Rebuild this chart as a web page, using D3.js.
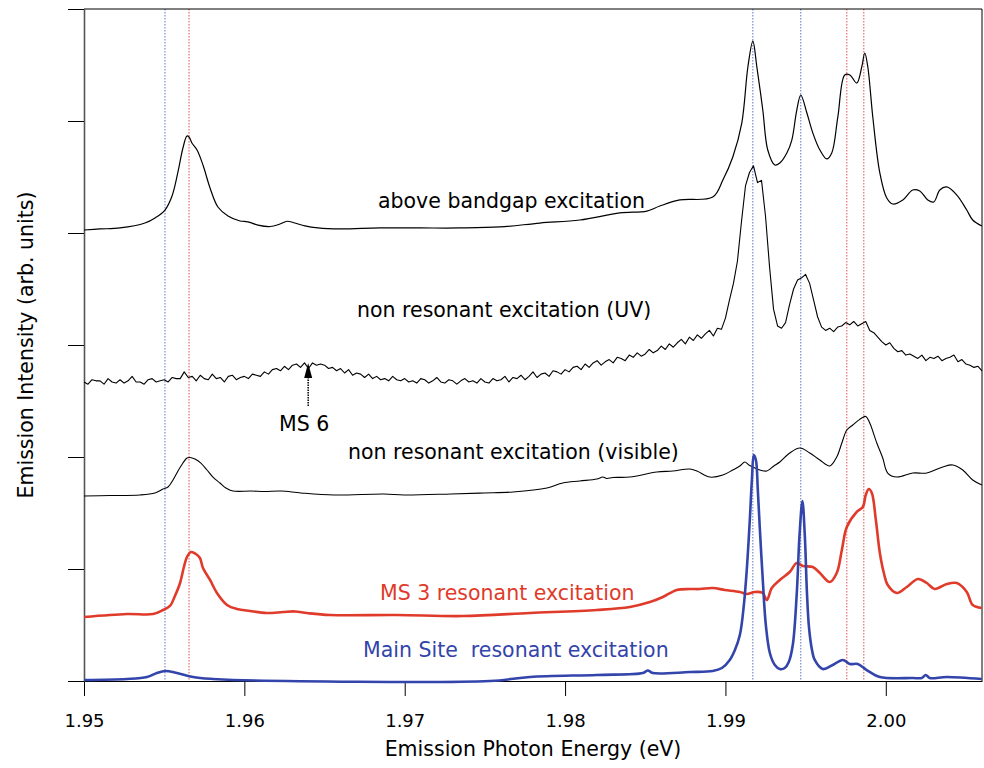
<!DOCTYPE html>
<html><head><meta charset="utf-8">
<script src="https://cdn.jsdelivr.net/npm/d3@7"></script>
<style>body{margin:0;background:#fff}svg text{font-family:"DejaVu Sans",Verdana,sans-serif}</style>
</head><body><svg id="c" width="984" height="768"></svg>
<script>
// ---- data ----
const xTicks=[1.95,1.96,1.97,1.98,1.99,2.00];
const yTicks=[0,1,2,3,4,5,6];
const blueRefLines=[1.95505,1.99171,1.99470];
const redRefLines=[1.95655,1.99757,1.99863];
const labelTexts=["above bandgap excitation","non resonant excitation (UV)","MS 6","non resonant excitation (visible)","MS 3 resonant excitation","Main Site  resonant excitation"];

const aboveBandgap=[[1.95000,4.027],[1.95100,4.036],[1.95224,4.045],[1.95380,4.089],[1.95443,4.134],[1.95505,4.205],[1.95549,4.330],[1.95586,4.545],[1.95617,4.759],[1.95642,4.866],[1.95655,4.857],[1.95673,4.804],[1.95705,4.741],[1.95742,4.607],[1.95786,4.402],[1.95835,4.232],[1.95898,4.152],[1.95973,4.107],[1.96022,4.100],[1.96085,4.071],[1.96160,4.058],[1.96222,4.080],[1.96266,4.105],[1.96315,4.089],[1.96378,4.063],[1.96459,4.045],[1.96596,4.036],[1.96845,4.045],[1.97095,4.045],[1.97344,4.045],[1.97594,4.054],[1.97843,4.089],[1.98092,4.116],[1.98342,4.179],[1.98510,4.196],[1.98591,4.241],[1.98716,4.295],[1.98921,4.321],[1.98984,4.473],[1.99046,4.679],[1.99102,4.982],[1.99140,5.482],[1.99171,5.714],[1.99196,5.482],[1.99233,5.098],[1.99264,4.741],[1.99308,4.607],[1.99339,4.625],[1.99383,4.714],[1.99414,4.830],[1.99445,5.098],[1.99470,5.232],[1.99508,5.071],[1.99545,4.893],[1.99589,4.741],[1.99632,4.661],[1.99663,4.714],[1.99701,5.036],[1.99744,5.411],[1.99776,5.411],[1.99819,5.339],[1.99850,5.482],[1.99869,5.607],[1.99888,5.482],[1.99919,5.036],[1.99963,4.536],[2.00006,4.313],[2.00044,4.259],[2.00106,4.295],[2.00168,4.384],[2.00212,4.375],[2.00262,4.295],[2.00299,4.277],[2.00337,4.384],[2.00380,4.411],[2.00443,4.339],[2.00505,4.205],[2.00542,4.116],[2.00599,4.063]];

const uvNonResonant=[[1.95000,2.67],[1.95025,2.65],[1.95050,2.69],[1.95075,2.68],[1.95100,2.68],[1.95125,2.65],[1.95150,2.70],[1.95175,2.67],[1.95200,2.66],[1.95225,2.69],[1.95250,2.66],[1.95275,2.68],[1.95300,2.72],[1.95325,2.67],[1.95350,2.67],[1.95375,2.65],[1.95400,2.69],[1.95425,2.70],[1.95450,2.67],[1.95475,2.68],[1.95500,2.69],[1.95525,2.67],[1.95550,2.71],[1.95575,2.70],[1.95600,2.70],[1.95625,2.76],[1.95650,2.71],[1.95675,2.72],[1.95700,2.68],[1.95725,2.73],[1.95750,2.70],[1.95775,2.69],[1.95800,2.74],[1.95825,2.70],[1.95850,2.71],[1.95875,2.67],[1.95900,2.72],[1.95925,2.73],[1.95950,2.69],[1.95975,2.71],[1.96000,2.72],[1.96025,2.70],[1.96050,2.74],[1.96075,2.73],[1.96100,2.72],[1.96125,2.76],[1.96150,2.74],[1.96175,2.78],[1.96200,2.79],[1.96225,2.77],[1.96250,2.81],[1.96275,2.78],[1.96300,2.82],[1.96325,2.83],[1.96350,2.80],[1.96375,2.84],[1.96400,2.79],[1.96425,2.84],[1.96450,2.82],[1.96475,2.83],[1.96500,2.82],[1.96525,2.79],[1.96550,2.80],[1.96575,2.77],[1.96600,2.79],[1.96625,2.75],[1.96650,2.78],[1.96675,2.73],[1.96700,2.75],[1.96725,2.74],[1.96750,2.71],[1.96775,2.74],[1.96800,2.70],[1.96825,2.72],[1.96850,2.69],[1.96875,2.70],[1.96900,2.68],[1.96925,2.72],[1.96950,2.69],[1.96975,2.68],[1.97000,2.70],[1.97025,2.67],[1.97050,2.68],[1.97075,2.66],[1.97100,2.70],[1.97125,2.69],[1.97150,2.66],[1.97175,2.68],[1.97200,2.71],[1.97225,2.67],[1.97250,2.66],[1.97275,2.69],[1.97300,2.68],[1.97325,2.65],[1.97350,2.68],[1.97375,2.70],[1.97400,2.67],[1.97425,2.68],[1.97450,2.66],[1.97475,2.70],[1.97500,2.67],[1.97525,2.66],[1.97550,2.70],[1.97575,2.68],[1.97600,2.69],[1.97625,2.72],[1.97650,2.67],[1.97675,2.71],[1.97700,2.70],[1.97725,2.73],[1.97750,2.69],[1.97775,2.72],[1.97800,2.76],[1.97825,2.71],[1.97850,2.74],[1.97875,2.75],[1.97900,2.72],[1.97925,2.77],[1.97950,2.76],[1.97975,2.74],[1.98000,2.78],[1.98025,2.76],[1.98050,2.80],[1.98075,2.81],[1.98100,2.78],[1.98125,2.83],[1.98150,2.80],[1.98175,2.84],[1.98200,2.86],[1.98225,2.82],[1.98250,2.85],[1.98275,2.87],[1.98300,2.84],[1.98325,2.89],[1.98350,2.88],[1.98375,2.86],[1.98400,2.91],[1.98425,2.89],[1.98450,2.93],[1.98475,2.90],[1.98500,2.92],[1.98525,2.96],[1.98550,2.93],[1.98575,2.95],[1.98600,2.99],[1.98625,2.96],[1.98650,3.01],[1.98675,2.98],[1.98700,3.02],[1.98725,3.05],[1.98750,3.01],[1.98775,3.07],[1.98800,3.04],[1.98825,3.09],[1.98850,3.06],[1.98875,3.10],[1.98900,3.13],[1.98925,3.08],[1.98950,3.15],[1.98975,3.14],[1.99000,3.24],[1.99025,3.40],[1.99050,3.55],[1.99075,3.75],[1.99100,4.10],[1.99125,4.42],[1.99150,4.54],[1.99175,4.60],[1.99200,4.45],[1.99225,4.47],[1.99250,4.15],[1.99275,3.70],[1.99300,3.32],[1.99325,3.17],[1.99350,3.15],[1.99375,3.20],[1.99400,3.36],[1.99425,3.50],[1.99450,3.58],[1.99475,3.60],[1.99500,3.63],[1.99525,3.55],[1.99550,3.40],[1.99575,3.25],[1.99600,3.16],[1.99625,3.13],[1.99650,3.15],[1.99675,3.12],[1.99700,3.16],[1.99725,3.17],[1.99750,3.20],[1.99775,3.18],[1.99800,3.21],[1.99825,3.17],[1.99850,3.19],[1.99875,3.21],[1.99900,3.13],[1.99925,3.11],[1.99950,3.07],[1.99975,3.03],[2.00000,3.00],[2.00025,3.02],[2.00050,2.97],[2.00075,2.94],[2.00100,2.95],[2.00125,2.91],[2.00150,2.92],[2.00175,2.90],[2.00200,2.88],[2.00225,2.91],[2.00250,2.86],[2.00275,2.89],[2.00300,2.88],[2.00325,2.90],[2.00350,2.86],[2.00375,2.88],[2.00400,2.89],[2.00425,2.91],[2.00450,2.85],[2.00475,2.87],[2.00500,2.83],[2.00525,2.82],[2.00550,2.80],[2.00575,2.81],[2.00600,2.77]];

const visibleNonResonant=[[1.95000,1.652],[1.95162,1.656],[1.95349,1.661],[1.95443,1.679],[1.95493,1.714],[1.95524,1.732],[1.95555,1.795],[1.95586,1.875],[1.95617,1.946],[1.95642,1.991],[1.95661,1.996],[1.95692,1.982],[1.95729,1.946],[1.95767,1.884],[1.95804,1.821],[1.95848,1.768],[1.95885,1.723],[1.95929,1.696],[1.96041,1.696],[1.96128,1.692],[1.96228,1.696],[1.96353,1.679],[1.96559,1.661],[1.96870,1.670],[1.96995,1.661],[1.97288,1.670],[1.97494,1.679],[1.97675,1.688],[1.97887,1.723],[1.97986,1.768],[1.98092,1.786],[1.98198,1.804],[1.98236,1.821],[1.98260,1.808],[1.98298,1.817],[1.98404,1.821],[1.98572,1.866],[1.98672,1.875],[1.98778,1.893],[1.98822,1.875],[1.98903,1.821],[1.98984,1.839],[1.99046,1.884],[1.99090,1.920],[1.99121,1.955],[1.99146,1.929],[1.99171,1.911],[1.99214,1.884],[1.99258,1.875],[1.99302,1.920],[1.99339,1.955],[1.99401,2.036],[1.99464,2.080],[1.99526,2.036],[1.99589,1.973],[1.99651,1.920],[1.99694,2.000],[1.99726,2.125],[1.99757,2.241],[1.99794,2.286],[1.99850,2.348],[1.99875,2.362],[1.99900,2.304],[1.99944,2.125],[1.99981,1.991],[2.00012,1.857],[2.00069,1.821],[2.00168,1.857],[2.00256,1.857],[2.00355,1.911],[2.00418,1.929],[2.00480,1.884],[2.00542,1.795],[2.00599,1.750]];

const ms3Resonant=[[1.95000,0.571],[1.95268,0.598],[1.95430,0.598],[1.95493,0.634],[1.95536,0.670],[1.95567,0.759],[1.95599,0.875],[1.95623,1.018],[1.95642,1.107],[1.95667,1.152],[1.95698,1.134],[1.95723,1.098],[1.95742,1.009],[1.95786,0.902],[1.95829,0.786],[1.95892,0.679],[1.95954,0.643],[1.96035,0.625],[1.96141,0.607],[1.96241,0.616],[1.96315,0.621],[1.96390,0.607],[1.96534,0.589],[1.96951,0.589],[1.97363,0.580],[1.97781,0.607],[1.98198,0.634],[1.98404,0.661],[1.98529,0.705],[1.98610,0.750],[1.98697,0.813],[1.98778,0.821],[1.98840,0.821],[1.98921,0.830],[1.98996,0.813],[1.99090,0.795],[1.99133,0.777],[1.99183,0.795],[1.99233,0.786],[1.99258,0.723],[1.99289,0.830],[1.99339,0.902],[1.99401,0.973],[1.99445,1.054],[1.99483,1.027],[1.99545,1.018],[1.99589,0.964],[1.99651,0.884],[1.99694,0.964],[1.99726,1.170],[1.99757,1.375],[1.99819,1.509],[1.99857,1.554],[1.99875,1.661],[1.99894,1.714],[1.99913,1.679],[1.99938,1.438],[1.99963,1.143],[1.99988,0.964],[2.00012,0.857],[2.00069,0.786],[2.00131,0.839],[2.00200,0.911],[2.00256,0.875],[2.00305,0.821],[2.00380,0.866],[2.00443,0.875],[2.00505,0.795],[2.00542,0.679],[2.00599,0.652]];

const mainSiteResonant=[[1.95000,0.009],[1.95268,0.018],[1.95393,0.036],[1.95455,0.071],[1.95505,0.089],[1.95580,0.071],[1.95680,0.036],[1.95804,0.018],[1.95929,0.009],[1.97531,0.000],[1.97781,0.036],[1.98198,0.054],[1.98485,0.071],[1.98516,0.094],[1.98547,0.071],[1.98778,0.080],[1.98921,0.089],[1.98978,0.116],[1.99027,0.188],[1.99059,0.277],[1.99090,0.411],[1.99115,0.679],[1.99133,0.991],[1.99152,1.438],[1.99165,1.795],[1.99177,2.018],[1.99190,1.973],[1.99202,1.705],[1.99214,1.375],[1.99233,0.902],[1.99252,0.500],[1.99277,0.250],[1.99308,0.143],[1.99339,0.107],[1.99370,0.116],[1.99395,0.170],[1.99420,0.321],[1.99445,0.786],[1.99462,1.300],[1.99480,1.607],[1.99495,1.300],[1.99508,0.800],[1.99521,0.480],[1.99537,0.300],[1.99557,0.188],[1.99607,0.107],[1.99669,0.143],[1.99732,0.188],[1.99776,0.152],[1.99825,0.152],[1.99881,0.098],[1.99963,0.036],[2.00168,0.027],[2.00224,0.027],[2.00249,0.054],[2.00274,0.027],[2.00380,0.036],[2.00599,0.018]];

// ---- drawing ----
const svg=d3.select('#c');
const x=d3.scaleLinear().domain([1.95,2.006]).range([84,982]);
const y=d3.scaleLinear().domain([0,6]).range([681,9]);
const BLUE='#3344aa', RED='#e03a2a';

// reference dotted lines
const refG=svg.append('g');
refG.selectAll('line.b').data(blueRefLines).join('line')
  .attr('x1',d=>x(d)).attr('x2',d=>x(d)).attr('y1',y(6)).attr('y2',y(0))
  .attr('stroke','#5a72cc').attr('stroke-width',1).attr('stroke-dasharray','1.5,1.5');
refG.selectAll('line.r').data(redRefLines).join('line')
  .attr('x1',d=>x(d)).attr('x2',d=>x(d)).attr('y1',y(6)).attr('y2',y(0))
  .attr('stroke','#e05050').attr('stroke-width',1).attr('stroke-dasharray','1.5,1.5');

// axes
const xAxis=svg.append('g').attr('transform',`translate(0,${y(0)})`)
  .call(d3.axisBottom(x).tickValues(xTicks).tickFormat(d3.format('.2f')).tickSize(15).tickSizeOuter(0).tickPadding(18));
xAxis.selectAll('text').attr('font-size',18).attr('fill','#000').style('font-family','"DejaVu Sans",sans-serif');
xAxis.select('.domain').attr('stroke','#000');
const yAxis=svg.append('g').attr('transform',`translate(${x(1.95)},0)`)
  .call(d3.axisLeft(y).tickValues(yTicks).tickFormat('').tickSize(16).tickSizeOuter(0));
yAxis.select('.domain').attr('stroke','#555').attr('stroke-width',1.6);
// frame top and right
svg.append('line').attr('x1',x(1.95)).attr('x2',x(2.006)).attr('y1',y(6)).attr('y2',y(6)).attr('stroke','#000');
svg.append('line').attr('x1',x(2.006)).attr('x2',x(2.006)).attr('y1',y(6)).attr('y2',y(0)).attr('stroke','#000');

// curves
const smooth=d3.line().x(d=>x(d[0])).y(d=>y(d[1])).curve(d3.curveCatmullRom.alpha(0.5));
const straight=d3.line().x(d=>x(d[0])).y(d=>y(d[1]));
const curves=[
  {data:aboveBandgap,gen:smooth,color:'#000',w:1.2},
  {data:uvNonResonant,gen:straight,color:'#000',w:1.1},
  {data:visibleNonResonant,gen:smooth,color:'#000',w:1.1},
  {data:ms3Resonant,gen:smooth,color:RED,w:2.6},
  {data:mainSiteResonant,gen:smooth,color:BLUE,w:2.6}
];
svg.append('g').selectAll('path').data(curves).join('path')
  .attr('d',c=>c.gen(c.data)).attr('fill','none').attr('stroke',c=>c.color)
  .attr('stroke-width',c=>c.w).attr('stroke-linejoin','round');

// labels
const labelLayout=[
  {x:378,y:208,c:'#000'},{x:357,y:317,c:'#000'},{x:279,y:431,c:'#000'},
  {x:348,y:459,c:'#000'},{x:380,y:600,c:RED},{x:363,y:657,c:BLUE}
];
svg.append('g').selectAll('text').data(labelTexts).join('text')
  .attr('x',(d,i)=>labelLayout[i].x).attr('y',(d,i)=>labelLayout[i].y)
  .attr('fill',(d,i)=>labelLayout[i].c).attr('font-size',20.5)
  .style('white-space','pre').text(d=>d);

// MS 6 arrow
const ax=x(1.96398);
svg.append('line').attr('x1',ax).attr('x2',ax).attr('y1',406).attr('y2',377)
  .attr('stroke','#000').attr('stroke-width',1.5).attr('stroke-dasharray','1.5,1');
svg.append('path').attr('d',`M${ax},${363}L${ax-4},${378}L${ax+4},${378}Z`).attr('fill','#000');

// axis titles
svg.append('text').attr('x',533).attr('y',756).attr('text-anchor','middle').attr('font-size',20.5).attr('fill','#000')
  .text('Emission Photon Energy (eV)');
svg.append('text').attr('transform','translate(33,345) rotate(-90)').attr('text-anchor','middle').attr('font-size',20.5).attr('fill','#000')
  .text('Emission Intensity (arb. units)');
</script></body></html>
